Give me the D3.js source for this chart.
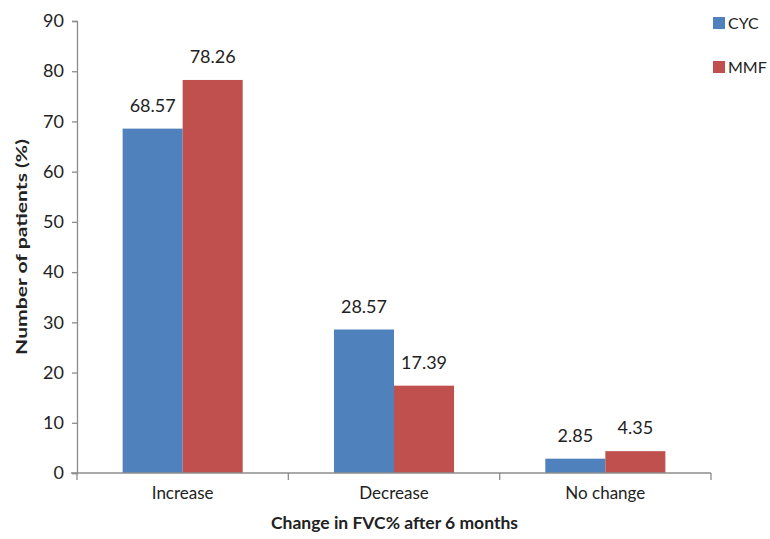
<!DOCTYPE html>
<html>
<head>
<meta charset="utf-8">
<script src="https://cdn.jsdelivr.net/npm/d3@7"></script>
<style>
  body { margin: 0; background: #fff; }
  text { font-family: Lato, "Open Sans", sans-serif; fill: #222; }
</style>
</head>
<body>
<svg width="770" height="539"></svg>
<script>
// chart data
const categories = ["Increase", "Decrease", "No change"];
const seriesNames = ["CYC", "MMF"];
const cycValues = [68.57, 28.57, 2.85];
const mmfValues = [78.26, 17.39, 4.35];
const cycLabels = ["68.57", "28.57", "2.85"];
const mmfLabels = ["78.26", "17.39", "4.35"];
const yTicks = [0, 10, 20, 30, 40, 50, 60, 70, 80, 90];

const colors = ["#4F81BD", "#C0504D"];
const svg = d3.select("svg");
const margin = { left: 77, right: 59, top: 21, bottom: 66 };
const width = 770 - margin.left - margin.right;
const height = 539 - margin.top - margin.bottom;

const g = svg.append("g").attr("transform", `translate(${margin.left},${margin.top})`);

const x = d3.scaleBand().domain(categories).range([0, width]).paddingInner(0).paddingOuter(0);
const x1 = d3.scaleBand().domain(seriesNames).range([0, x.bandwidth()]).paddingOuter(0.76).paddingInner(0);
const y = d3.scaleLinear().domain([0, 90]).range([height, 0]);

// y axis
const yAxis = g.append("g")
    .call(d3.axisLeft(y).tickValues(yTicks).tickSize(5).tickPadding(8));
yAxis.selectAll("line, path").attr("stroke", "#8c8c8c").attr("stroke-width", 1.3);
yAxis.selectAll("text").style("font-size", "18px").attr("fill", "#222");

// bars
const data = categories.map((c, i) => ({ cat: c, vals: [cycValues[i], mmfValues[i]], labs: [cycLabels[i], mmfLabels[i]] }));
const groups = g.selectAll(".grp").data(data).enter().append("g")
    .attr("transform", d => `translate(${x(d.cat)},0)`);

seriesNames.forEach((s, k) => {
    groups.append("rect")
        .attr("x", x1(s))
        .attr("width", x1.bandwidth())
        .attr("y", d => y(d.vals[k]))
        .attr("height", d => height - y(d.vals[k]))
        .attr("fill", colors[k]);
    groups.append("text")
        .attr("x", x1(s) + x1.bandwidth() / 2)
        .attr("y", d => y(d.vals[k]) - 17)
        .attr("text-anchor", "middle")
        .style("font-size", "18px")
        .text(d => d.labs[k]);
});

// x axis
const xAxis = g.append("g").attr("transform", `translate(0,${height})`)
    .call(d3.axisBottom(x).tickSize(0).tickPadding(14));
xAxis.select(".domain").attr("stroke", "#8c8c8c").attr("stroke-width", 1.3).attr("d", `M-6,0H${width}`);
xAxis.selectAll("text").style("font-size", "17px").attr("fill", "#222");
xAxis.selectAll(".sep").data(d3.range(categories.length + 1)).enter().append("line")
    .attr("x1", i => i * x.step()).attr("x2", i => i * x.step())
    .attr("y1", 0).attr("y2", 7)
    .attr("stroke", "#8c8c8c").attr("stroke-width", 1.3);

// axis titles (y title is stretched along its length like the original)
svg.append("text")
    .attr("transform", "translate(27,247) rotate(-90) scale(1.32,1)")
    .attr("text-anchor", "middle")
    .style("font-size", "16px").style("font-weight", "bold")
    .text("Number of patients (%)");
svg.append("text")
    .attr("x", 271).attr("y", 529)
    .style("font-size", "17.5px").style("font-weight", "bold")
    .text("Change in FVC% after 6 months");

// legend
const legend = svg.append("g").attr("transform", "translate(713,17)");
seriesNames.forEach((s, k) => {
    legend.append("rect").attr("x", 0).attr("y", k * 44).attr("width", 12).attr("height", 12).attr("fill", colors[k]);
    legend.append("text").attr("x", 15).attr("y", k * 44 + 12).style("font-size", "16px").text(s);
});
</script>
</body>
</html>
